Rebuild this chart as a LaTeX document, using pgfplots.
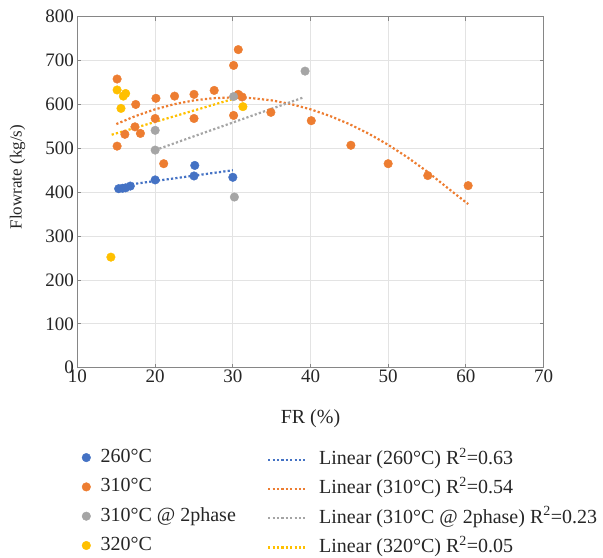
\documentclass[border=0pt]{standalone}
\usepackage{pgfplots}
\pgfplotsset{compat=1.18}
\usepackage{fontspec}
\setmainfont{Liberation Serif}
\definecolor{cblue}{HTML}{4472C4}
\definecolor{corange}{HTML}{ED7D31}
\definecolor{cgray}{HTML}{A5A5A5}
\definecolor{cyellow}{HTML}{FFC000}
\definecolor{axgray}{HTML}{868686}
\definecolor{gridgray}{HTML}{E3E3E3}
\pgfplotsset{
  base/.style={scale only axis, width=466bp, height=351bp,
    xmin=10, xmax=70, ymin=0, ymax=800},
  trend/.style={line width=2.2bp, dash pattern=on 2.2bp off 2.2bp, no marks},
}
\begin{document}
\begin{tikzpicture}
\useasboundingbox (-77.5bp,-190.3bp) rectangle (525.5bp,367.7bp);
% axis with grid, ticks and trend lines
\begin{axis}[base,
  xtick={10,20,30,40,50,60,70}, xticklabels={10,20,30,40,50,60,70},
  ytick={0,100,200,300,400,500,600,700,800},
  yticklabels={0,100,200,300,400,500,600,700,800},
  grid=major, major grid style={gridgray, line width=0.7bp},
  axis line style={axgray, line width=0.9bp},
  tick style={axgray, line width=0.8bp}, tick align=inside, major tick length=4bp,
  ticklabel style={font=\fontsize{19bp}{22bp}\selectfont, text=black!85},
  xticklabel style={yshift=1bp},
  xlabel={FR (\%)}, ylabel={Flowrate (kg/s)},
  xlabel style={font=\fontsize{20bp}{24bp}\selectfont, text=black!85,
    at={(axis description cs:0.5,-0.159)}, anchor=base},
  ylabel style={font=\fontsize{17bp}{20bp}\selectfont, text=black!85,
    at={(axis description cs:-0.1288,0.543)}, anchor=center},
  legend style={at={(axis description cs:0.4067,-0.2362)}, anchor=north west,
    draw=none, fill=none, inner sep=0pt, outer sep=0pt,
    row sep=11.3bp, column sep=13bp,
    font=\fontsize{20bp}{24bp}\selectfont, text=black!85,
    nodes={inner sep=0pt, text height=14bp, text depth=4bp}},
  legend cell align=left,
  legend image code/.code={\draw[#1] (0bp,0bp) -- (37bp,0bp);},
]
\addplot[cblue, trend] coordinates {(15.3,414) (30,450)};
\addlegendentry{Linear (260°C) R\textsuperscript{2}=0.63}
\addplot[corange, trend] coordinates {
 (15,555.3) (17.5,573.8) (20,589) (22.5,600.8) (25,609.3) (27.5,614.3)
 (30,616) (32.5,614.3) (35,609.3) (37.5,600.8) (40,589) (42.5,573.8)
 (45,555.3) (47.5,533.3) (50,508) (52.5,479.3) (55,447.3) (57.5,411.8) (60.3,373)};
\addlegendentry{Linear (310°C) R\textsuperscript{2}=0.54}
\addplot[cgray, trend] coordinates {(20,496) (39.1,616)};
\addlegendentry{Linear (310°C @ 2phase) R\textsuperscript{2}=0.23}
\addplot[cyellow, trend] coordinates {(14.4,531) (30.9,617)};
\addlegendentry{Linear (320°C) R\textsuperscript{2}=0.05}
\end{axis}
% scatter points on top
\begin{axis}[base, hide axis,
  legend style={at={(axis description cs:0.0097,-0.2305)}, anchor=north west,
    draw=none, fill=none, inner sep=0pt, outer sep=0pt,
    row sep=11.3bp, column sep=10bp,
    font=\fontsize{20bp}{24bp}\selectfont, text=black!85,
    nodes={inner sep=0pt, text height=14bp, text depth=4bp}},
  legend cell align=left,
  legend image code/.code={\draw[#1] plot coordinates {(0bp,0bp)};},
  only marks, mark=*, mark size=4.3bp,
]
\addplot[cblue, only marks, mark=*] coordinates {
 (15.3,408) (15.8,409) (16.2,410) (16.8,414) (20,428) (25,437) (25.1,461) (30,434)};
\addlegendentry{260°C}
\addplot[corange, only marks, mark=*] coordinates {
 (15.1,658) (30.7,725) (30.1,689) (20.1,614) (22.5,619) (25.0,623) (27.6,632)
 (30.7,623) (31.2,617) (17.5,600) (20.0,568) (25.0,568) (30.1,575) (16.1,532)
 (17.4,549) (18.1,534) (15.1,505) (21.1,465) (34.9,582) (40.1,563) (45.2,507)
 (50.0,465) (55.1,438) (60.3,415)};
\addlegendentry{310°C}
\addplot[cgray, only marks, mark=*] coordinates {
 (20,541) (20,496) (30.1,618) (39.3,676) (30.2,389)};
\addlegendentry{310°C @ 2phase}
\addplot[cyellow, only marks, mark=*] coordinates {
 (15.1,633) (16.2,625) (15.9,619) (15.6,591) (31.3,595) (14.3,252)};
\addlegendentry{320°C}
\end{axis}
\end{tikzpicture}
\end{document}
